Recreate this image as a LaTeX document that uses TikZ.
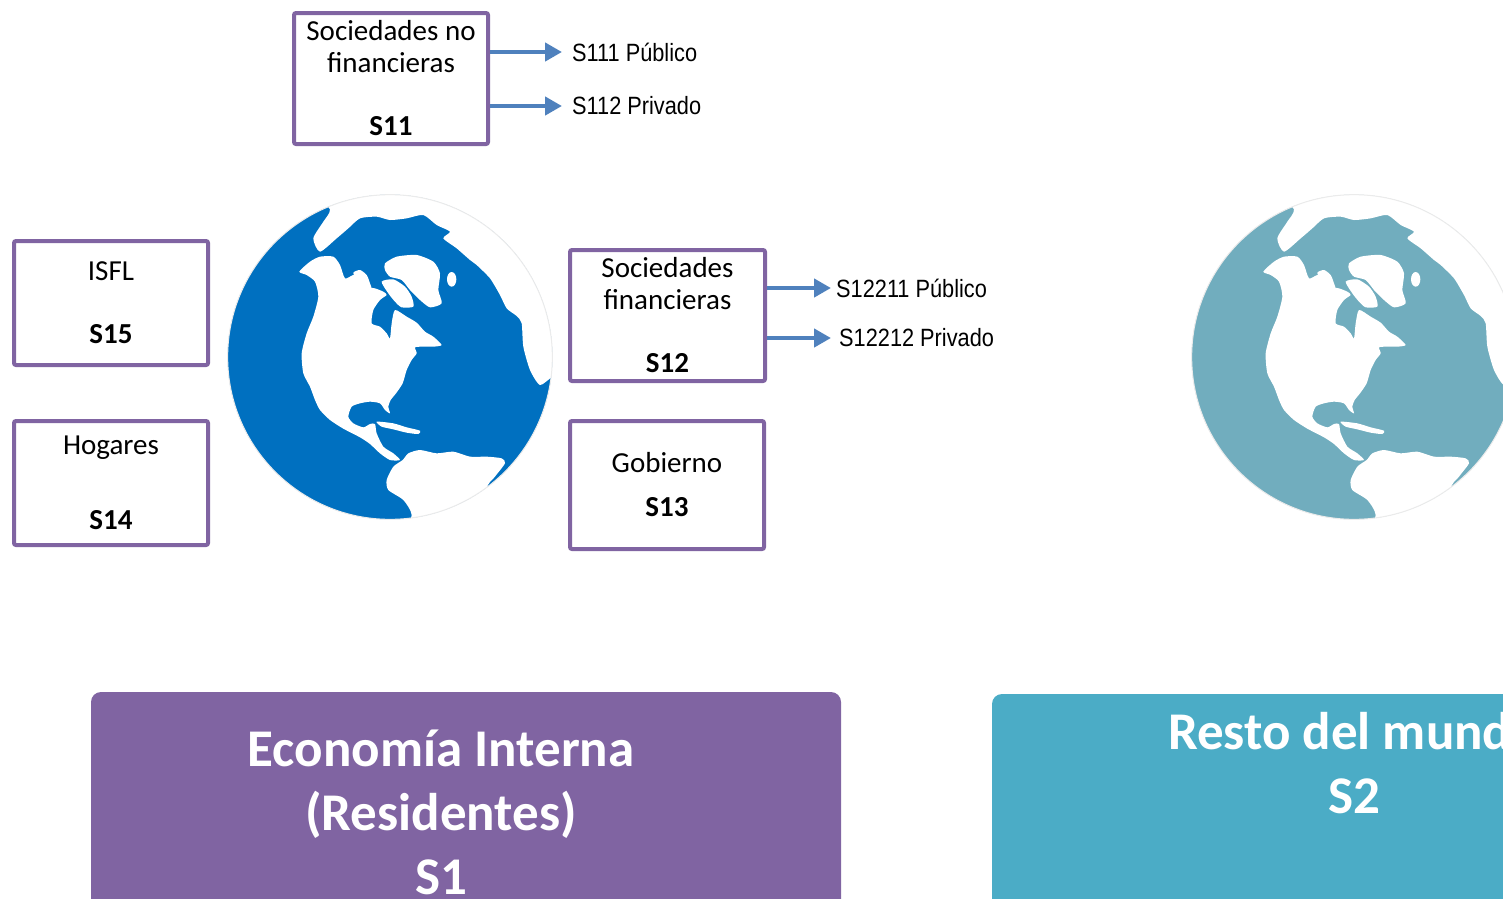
\documentclass[tikz,border=0pt]{standalone}
\usepackage{fontspec}
\setmainfont{Carlito}
\newfontfamily\arialn[FakeStretch=0.87]{Liberation Sans}
\usetikzlibrary{arrows.meta}
\definecolor{moradoborde}{HTML}{8064A2}
\definecolor{moradobanda}{HTML}{8064A2}
\definecolor{azulflecha}{HTML}{4F81BD}
\definecolor{azulglobo}{HTML}{0070C0}
\definecolor{verdeglobo}{HTML}{71ADBE}
\definecolor{tealbanda}{HTML}{4BACC6}

% globo: #1,#2 esquina, #3 color del mar
\newcommand{\globo}[3]{%
  \begin{scope}[shift={(#1,#2)},scale=1/3]
    \fill[#3] (510,501) circle (487);
    \begin{scope}
      \clip (510,501) circle (487);
      % casquete norte, Groenlandia y Europa/Africa
      \fill[white] plot[smooth cycle,tension=0.4] coordinates {(300,-20) (330,58) (310,95) (280,145) (300,185) (350,145) (385,115) (420,85) (470,80) (510,90) (560,85) (610,75) (650,105) (690,125) (670,145) (710,175) (750,210) (770,225) (810,265) (840,315) (860,355) (890,378) (905,400) (910,470) (930,540) (960,585) (1000,560) (1060,560) (1060,-20)};
      % America del Norte
      \fill[white] plot[smooth cycle,tension=0.4] coordinates {(238,245) (270,215) (300,200) (340,200) (360,225) (375,265) (400,255) (420,262) (440,290) (465,295) (490,305) (500,315) (480,330) (460,360) (455,400) (480,410) (500,430) (510,445) (515,400) (525,360) (560,380) (590,398) (615,425) (640,440) (665,465) (640,470) (610,470) (585,472) (590,490) (575,510) (560,540) (548,580) (528,610) (512,630) (505,650) (510,670) (495,660) (480,640) (450,635) (420,640) (395,650) (385,680) (400,700) (430,712) (450,702) (465,702) (470,730) (490,770) (520,790) (540,810) (510,810) (480,790) (450,762) (420,742) (370,716) (330,690) (300,660) (285,630) (270,590) (250,550) (245,490) (260,430) (280,380) (295,320) (285,275) (260,255)};
      % islas articas
      \fill[white] plot[smooth cycle,tension=0.4] coordinates {(400,248) (420,240) (440,255) (450,280) (455,300) (430,295) (410,270)};
      \fill[white] plot[smooth cycle,tension=0.4] coordinates {(485,275) (520,268) (555,290) (575,320) (580,350) (545,352) (525,335) (505,310)};
      \fill[white] plot[smooth cycle,tension=0.4] coordinates {(495,220) (530,200) (590,195) (640,215) (660,250) (655,300) (665,340) (630,352) (600,330) (570,300) (545,270) (510,260) (495,240)};
      \fill[white] (695,268) ellipse (14 and 22);
      % Antillas
      \fill[white] plot[smooth cycle,tension=0.4] coordinates {(470,695) (520,700) (560,712) (600,722) (595,732) (560,728) (520,718) (485,710)};
      % America del Sur
      \fill[white] plot[smooth cycle,tension=0.4] coordinates {(500,870) (520,830) (548,810) (565,790) (600,780) (650,790) (700,785) (750,800) (800,800) (845,805) (855,820) (825,860) (800,900) (820,1060) (560,1060) (575,975) (550,930) (505,900)};
    \end{scope}
    \draw[black!8,line width=1pt] (510,501) circle (487);
  \end{scope}}

\begin{document}
\begin{tikzpicture}[x=1pt,y=-1pt,
  caja/.style={draw=moradoborde,line width=4pt,rounded corners=2pt,align=center,
    minimum width=194pt,minimum height=124pt,inner sep=0pt,
    font=\fontsize{29}{32}\selectfont},
  flecha/.style={draw=azulflecha,line width=4.5pt,-{Triangle[length=17pt,width=18pt]}},
  etiqueta/.style={font=\arialn\fontsize{25}{30}\selectfont,inner ysep=0pt,anchor=west},
  banda/.style={rounded corners=10pt,minimum height=240pt,inner sep=0pt},
  titulo/.style={text=white,align=center,font=\bfseries\fontsize{53}{64}\selectfont}]
\useasboundingbox (0,0) rectangle (1503,898);
\clip (0,0) rectangle (1503,898);

\globo{220}{190}{azulglobo}
\globo{1184}{190}{verdeglobo}

% sectores institucionales
\node[caja,minimum height=131pt] (s11) at (391,78.5) {Sociedades no\\financieras\\[31pt]\textbf{S11}};
\node[caja] (s15) at (111,303) {ISFL\\[31pt]\textbf{S15}};
\node[caja] (s14) at (111,483) {Hogares\\[43pt]\textbf{S14}};
\node[caja,minimum width=195pt,minimum height=131pt] (s12) at (667.5,315.5) {Sociedades\\financieras\\[31pt]\textbf{S12}};
\node[caja,minimum height=128pt] (s13) at (667,485) {Gobierno\\[12pt]\textbf{S13}};

% subsectores
\node[etiqueta,inner xsep=10pt] (t111) at (562,52) {S111 Público};
\node[etiqueta,inner xsep=10pt] (t112) at (562,106) {S112 Privado};
\node[etiqueta,inner xsep=5pt] (t1221) at (831,288) {S12211 Público};
\node[etiqueta,inner xsep=8pt] (t1222) at (831,338) {S12212 Privado};
\draw[flecha] (s11.east |- t111.west) -- (t111.west);
\draw[flecha] (s11.east |- t112.west) -- (t112.west);
\draw[flecha] (s12.east |- t1221.west) -- (t1221.west);
\draw[flecha] (s12.east |- t1222.west) -- (t1222.west);

% economias
\node[banda,fill=moradobanda,minimum width=750pt] (s1) at (466,812) {};
\node[titulo] (n1) at (441,812) {Economía Interna\\(Residentes)\\S1};
\node[banda,fill=tealbanda,minimum width=600pt] (s2) at (1292,814) {};
\node[titulo] (n2) at (1354,763) {Resto del mundo\\S2};
\end{tikzpicture}
\end{document}
